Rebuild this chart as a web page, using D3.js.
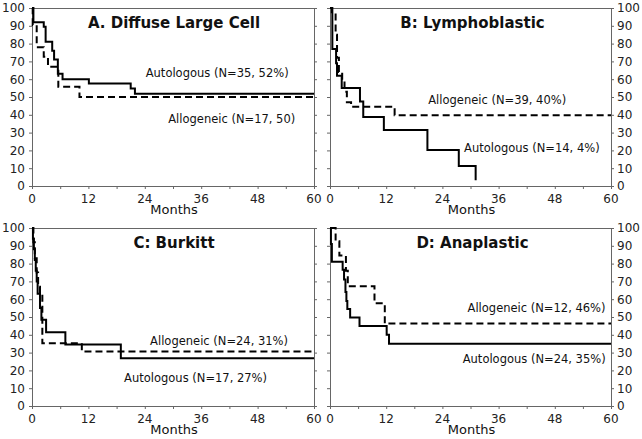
<!DOCTYPE html>
<html><head><meta charset="utf-8">
<script src="https://cdn.jsdelivr.net/npm/d3@7"></script>
<style>
html,body{margin:0;padding:0;background:#fff;}
svg{display:block;font-family:"DejaVu Sans",Verdana,sans-serif;}
</style></head>
<body>
<svg id="chart" width="642" height="439"></svg>
<script>
// ---- data (months, % surviving) ----
const monthTicks = [0, 12, 24, 36, 48, 60];
const minorMonthTicks = [0, 6, 12, 18, 24, 30, 36, 42, 48, 54, 60];
const pctTicks = [0, 10, 20, 30, 40, 50, 60, 70, 80, 90, 100];
const panelTitles = ["A. Diffuse Large Cell", "B: Lymphoblastic", "C: Burkitt", "D: Anaplastic"];

const autoA = [[0,100],[0.3,92],[2.5,89.5],[2.9,81],[4.3,76],[4.7,71],[5.5,63],[6.5,60],[12.1,57.6],[21,54.8],[21.9,51.8],[60,51.8]];
const alloA = [[0,100],[0.15,90.5],[1.0,78],[2.5,72.6],[3.4,67],[5.6,55.7],[10.1,50],[60,50]];

const autoB = [[0,100],[0.5,77],[1.3,69],[1.5,62],[2.5,55],[6.4,47.5],[7.1,38.7],[11.5,31.5],[20.8,20.2],[27.5,11.3],[31.1,3.2],[31.1,3.2]];
const alloB = [[0,100],[0.4,97],[1.2,85],[1.5,72],[1.9,64],[2.6,59],[3.1,53],[3.6,47],[4.5,44.5],[13.8,39.7],[60,39.7]];

const autoC = [[0,100],[0.2,94],[0.4,88],[0.6,82],[0.8,76],[1.0,70],[1.2,63],[1.7,55],[2.0,48.4],[3.0,41.5],[7.1,34.6],[18.9,26.8],[60,26.8]];
const alloC = [[0,100],[0.3,92],[0.6,83],[1.0,75],[1.3,67],[1.7,62],[2.2,35.3],[10.6,30.6],[60,30.6]];

const autoD = [[0,100],[0.2,91],[0.4,81],[2.7,76.5],[3.0,71],[3.3,64],[3.5,59],[3.7,54.5],[4.3,49.7],[6.3,45],[12.1,40],[12.6,35],[60,35]];
const alloD = [[0,100],[1.2,92.5],[2.0,84.5],[3.4,76],[3.8,67.3],[9.5,57.7],[11.7,46.3],[60,46.3]];

const autoLabels = ["Autologous (N=35, 52%)", "Autologous (N=14, 4%)", "Autologous (N=17, 27%)", "Autologous (N=24, 35%)"];
const alloLabels = ["Allogeneic (N=17, 50)", "Allogeneic (N=39, 40%)", "Allogeneic (N=24, 31%)", "Allogeneic (N=12, 46%)"];

// ---- layout ----
const panels = [
  {x0:32,  x1:314, y0:8,   y1:186, side:"left",  auto:autoA, allo:alloA, autoPos:[39.4,61.2], alloPos:[42.5,35.3]},
  {x0:330, x1:611, y0:8,   y1:186, side:"right", auto:autoB, allo:alloB, autoPos:[43.1,19.1], alloPos:[35.7,46.2]},
  {x0:32,  x1:314, y0:228, y1:406, side:"left",  auto:autoC, allo:alloC, autoPos:[34.8,13.5], alloPos:[39.8,34.3]},
  {x0:330, x1:611, y0:228, y1:406, side:"right", auto:autoD, allo:alloD, autoPos:[43.6,24.2], alloPos:[44.1,52.9]}
];

const svg = d3.select("#chart");
const axisColor = "#666";

panels.forEach((p, i) => {
  const x = d3.scaleLinear().domain([0, 60]).range([p.x0, p.x1]);
  const y = d3.scaleLinear().domain([0, 100]).range([p.y1, p.y0]);
  const g = svg.append("g");

  // frame: top line
  g.append("line").attr("x1", p.x0).attr("x2", p.x1).attr("y1", p.y0 + 0.5).attr("y2", p.y0 + 0.5)
    .attr("stroke", axisColor).attr("stroke-width", 1);

  // x axis
  const xAxis = g.append("g").attr("transform", `translate(0,${p.y1})`)
    .call(d3.axisBottom(x).tickValues(minorMonthTicks).tickSize(3).tickFormat(""));
  xAxis.select(".domain").attr("stroke", axisColor);
  xAxis.selectAll(".tick line").attr("stroke", axisColor);
  g.append("g").selectAll("text").data(monthTicks).join("text")
    .attr("x", d => x(d)).attr("y", p.y1 + 17).attr("text-anchor", "middle")
    .attr("font-size", 12).attr("fill", "#222").text(d => d);

  // y axes on both sides
  const yl = g.append("g").attr("transform", `translate(${p.x0},0)`)
    .call(d3.axisLeft(y).tickValues(pctTicks).tickSizeInner(3).tickSizeOuter(0)
      .tickFormat(p.side === "left" ? d3.format("d") : ""));
  const yr = g.append("g").attr("transform", `translate(${p.x1},0)`)
    .call(d3.axisRight(y).tickValues(pctTicks).tickSizeInner(3).tickSizeOuter(0)
      .tickFormat(p.side === "right" ? d3.format("d") : ""));
  [yl, yr].forEach(a => {
    a.select(".domain").attr("stroke", axisColor);
    a.selectAll(".tick line").attr("stroke", axisColor);
    a.selectAll(".tick text").attr("font-size", 12).attr("fill", "#222")
      .attr("font-family", '"DejaVu Sans",Verdana,sans-serif');
  });
  if (p.side === "left") yl.selectAll(".tick text").attr("x", -7);
  else yr.selectAll(".tick text").attr("x", 6);

  // Months label
  g.append("text").attr("x", (p.x0 + p.x1) / 2 + 1).attr("y", p.y1 + 28)
    .attr("text-anchor", "middle").attr("font-size", 13).attr("fill", "#111").text("Months");

  // title
  g.append("text").attr("x", (p.x0 + p.x1) / 2 + 1 + (i % 2 ? 1 : 0)).attr("y", p.y0 + 20)
    .attr("text-anchor", "middle").attr("font-size", 15).attr("font-weight", "bold")
    .attr("fill", "#111").text(panelTitles[i]);

  // curves
  const line = d3.line().x(d => x(d[0])).y(d => y(d[1])).curve(d3.curveStepAfter);
  g.append("path").datum(p.allo).attr("d", line).attr("fill", "none")
    .attr("stroke", "#000").attr("stroke-width", 2).attr("stroke-dasharray", "7,4");
  g.append("path").datum(p.auto).attr("d", line).attr("fill", "none")
    .attr("stroke", "#000").attr("stroke-width", 2);

  // annotations
  g.append("text").attr("x", x(p.autoPos[0])).attr("y", y(p.autoPos[1]))
    .attr("text-anchor", "middle").attr("font-size", 11.5).attr("fill", "#111").text(autoLabels[i]);
  g.append("text").attr("x", x(p.alloPos[0])).attr("y", y(p.alloPos[1]))
    .attr("text-anchor", "middle").attr("font-size", 11.5).attr("fill", "#111").text(alloLabels[i]);
});
</script>
</body></html>
